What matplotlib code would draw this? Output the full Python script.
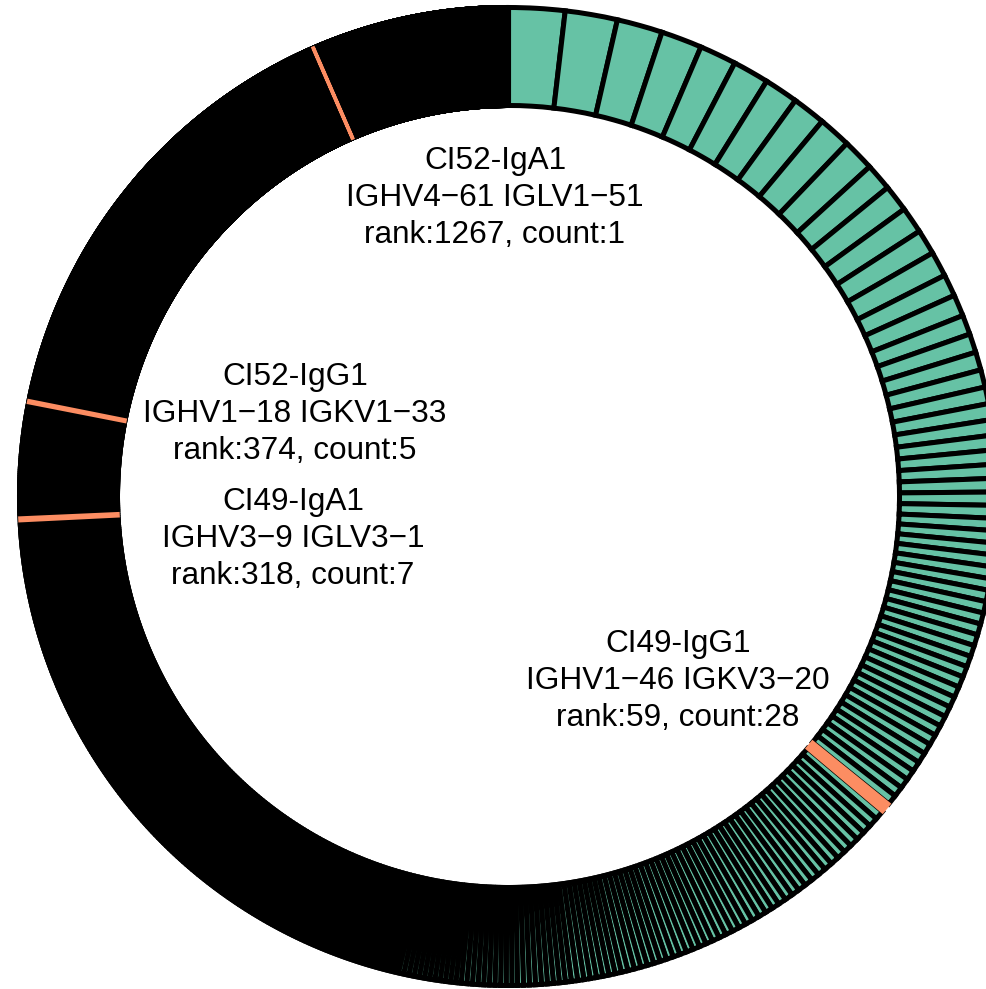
import numpy as np
import matplotlib
matplotlib.use("Agg")
import matplotlib.pyplot as plt

# Clone sizes ranked by read count; ranks 1-59 listed one by one
top_counts = [161, 150, 131, 118, 106, 104, 98, 96, 94, 92,
              78, 77, 76, 72, 72, 63, 62, 56, 54, 52,
              50, 48, 46, 44, 42, 41, 40, 39, 38, 37,
              35, 35, 34, 34, 34, 33, 33, 33, 32, 32,
              32, 32, 31, 31, 31, 31, 31, 30, 30, 30,
              30, 30, 30, 29, 29, 29, 29, 29, 28]

# Remaining clones: count value and how many clones share it
tail_count_values = [27, 26, 25, 24, 23, 22, 21, 20, 19, 18, 17, 16, 15, 14,
                     13, 12, 11, 10, 9, 8, 7, 6, 5, 4, 3, 2, 1]
tail_clone_numbers = [2, 3, 3, 4, 4, 5, 5, 7, 7, 8, 9, 10, 12, 14,
                      16, 19, 22, 25, 28, 31, 37, 30, 33, 35, 60, 140, 1207]

# Highlighted clones
highlight_ranks = [1267, 374, 318, 59]
highlight_names = ["CI52-IgA1", "CI52-IgG1", "CI49-IgA1", "CI49-IgG1"]
highlight_genes = ["IGHV4\u221261 IGLV1\u221251",
                   "IGHV1\u221218 IGKV1\u221233",
                   "IGHV3\u22129 IGLV3\u22121",
                   "IGHV1\u221246 IGKV3\u221220"]

counts = np.concatenate([np.array(top_counts),
                         np.repeat(tail_count_values, tail_clone_numbers)])

TEAL = "#66c2a5"
ORANGE = "#fc8d62"

W_PX, H_PX = 987, 989
fig = plt.figure(figsize=(W_PX / 100, H_PX / 100), dpi=100)
ax = fig.add_axes([0, 0, 1, 1])

cx, cy = 508.5, H_PX - 496.5
R_OUT, R_IN = 489.0, 391.0

wedges, _ = ax.pie(counts, colors=[TEAL] * len(counts), startangle=90,
                   counterclock=False, radius=R_OUT, center=(cx, cy),
                   wedgeprops=dict(width=R_OUT - R_IN, edgecolor="black",
                                   linewidth=3.6))

for r in highlight_ranks:
    w = wedges[r - 1]
    w.set_facecolor(ORANGE)
    w.set_edgecolor(ORANGE)
    w.set_linewidth(2.6)
    w.set_zorder(5)

# label anchors (pixel positions from the top-left corner)
label_xy = [(495, 198), (295, 414), (293, 539), (678, 681)]
for (lx, ly), name, genes, r in zip(label_xy, highlight_names,
                                     highlight_genes, highlight_ranks):
    txt = f"{name}\n{genes}\nrank:{r}, count:{counts[r - 1]}"
    ax.text(lx, H_PX - ly, txt, ha="center", va="center",
            multialignment="center", fontsize=22.7,
            family=["Liberation Sans", "DejaVu Sans"], linespacing=1.3,
            zorder=10)

ax.set_xlim(0, W_PX)
ax.set_ylim(0, H_PX)
ax.set_aspect("equal")
ax.axis("off")

fig.savefig("out.png", dpi=100, facecolor="white")
